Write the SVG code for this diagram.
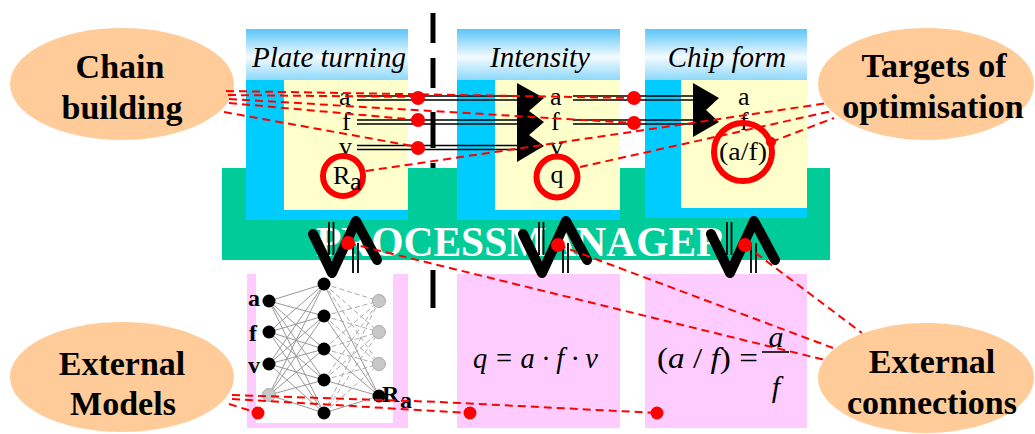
<svg xmlns="http://www.w3.org/2000/svg" width="1035" height="434" viewBox="0 0 1035 434">
<defs>
<linearGradient id="hdrGrad" x1="0" y1="0" x2="0" y2="1">
<stop offset="0" stop-color="#5bc5f8"/>
<stop offset="0.55" stop-color="#f4fbff"/>
<stop offset="1" stop-color="#8dd8fb"/>
</linearGradient>
</defs>
<style>
.blue{fill:#00ccff}
.hdrbg{fill:url(#hdrGrad)}
.yel{fill:#ffffcc}
.pink{fill:#ffccff}
.hdr{font-family:"Liberation Serif",serif;font-style:italic;font-size:29px;text-anchor:middle;fill:#000}
.lbl{font-family:"Liberation Serif",serif;font-size:26px;fill:#000}
.ell{fill:#ffcc99}
.ellt{font-family:"Liberation Serif",serif;font-weight:bold;font-size:34px;text-anchor:middle;fill:#000}
.dot{fill:#ff0000}
.ring{fill:none;stroke:#ff0000;stroke-width:6}
.conn{fill:none;stroke:#ff0000;stroke-width:2;stroke-dasharray:8 5}
.dbl{stroke:#000;stroke-width:1.6;fill:none}
.zig{fill:none;stroke:#000;stroke-width:10;stroke-linecap:round;stroke-linejoin:round}
.shaft{fill:none;stroke:#000;stroke-width:1.8}
.nnl{stroke:#999;stroke-width:1;fill:none}
.nnd{stroke:#aaa;stroke-width:1;fill:none;stroke-dasharray:5 3}
.nb{fill:#000}
.ng{fill:#c8c8c8;stroke:#aaa;stroke-width:1}
.nnt{font-family:"Liberation Serif",serif;font-weight:bold;font-size:24px;fill:#000}
.math{font-family:"Liberation Serif",serif;font-size:30px;fill:#000}
</style>
<rect x="0" y="0" width="1035" height="434" fill="#fff"/>

<g id="divider">
<path d="M433 13V43M433 58V88M433 112V148M433 163V200M433 270V308" stroke="#000" stroke-width="5" fill="none"/>
</g>

<g id="process-manager">
<rect x="222" y="168" width="608" height="92" fill="#00cc99"/>
<text x="316" y="256" font-family="Liberation Serif, serif" font-weight="bold" font-size="42" fill="#fff" textLength="410" lengthAdjust="spacingAndGlyphs">PROCESSMANAGER</text>
</g>

<g id="plate-turning">
<rect class="blue" x="246" y="29" width="162" height="191"/>
<rect class="hdrbg" x="246" y="29" width="162" height="51"/>
<rect class="yel" x="284" y="80" width="124" height="130"/>
<text class="hdr" x="329" y="67">Plate turning</text>
<text class="lbl" x="339" y="105">a</text>
<text class="lbl" x="342" y="130">f</text>
<text class="lbl" x="339" y="155">v</text>
<circle cx="343" cy="176" r="20" fill="#ffffcc"/>
<circle class="ring" cx="343" cy="176" r="20"/>
<text class="lbl" x="333" y="184" font-size="28">R</text>
<text class="lbl" x="350" y="190" font-size="13">a</text>
</g>

<g id="intensity">
<rect class="blue" x="457" y="29" width="163" height="191"/>
<rect class="hdrbg" x="457" y="29" width="163" height="51"/>
<rect class="yel" x="495" y="80" width="125" height="130"/>
<text class="hdr" x="540" y="67">Intensity</text>
<text class="lbl" x="550" y="105">a</text>
<text class="lbl" x="551" y="130">f</text>
<text class="lbl" x="550" y="155">v</text>
<polygon points="517,83 544,98 529,111 544,122 529,135 544,146 517,162" fill="#000"/>
<circle cx="557" cy="177" r="20.5" fill="#ffffcc"/>
<circle class="ring" cx="557" cy="177" r="20.5"/>
<text class="lbl" x="557" y="183" font-size="31" text-anchor="middle">q</text>
</g>

<g id="chip-form">
<rect class="blue" x="645" y="29" width="162" height="189"/>
<rect class="hdrbg" x="645" y="29" width="162" height="51"/>
<rect class="yel" x="681" y="80" width="126" height="128"/>
<text class="hdr" x="727" y="67">Chip form</text>
<text class="lbl" x="738" y="105">a</text>
<text class="lbl" x="740" y="130">f</text>
<polygon points="693,83 719,98 706,110 719,122 693,137" fill="#000"/>
<circle class="ring" cx="743" cy="152" r="29"/>
<text class="lbl" x="743" y="160" font-size="29" text-anchor="middle" textLength="48" lengthAdjust="spacingAndGlyphs">(a/f)</text>
</g>

<g id="neural-model">
<rect class="pink" x="247" y="274" width="161" height="154"/>
<rect x="256" y="274" width="137" height="149" fill="#fff"/>
<path class="nnl" d="M269 301L324 284M269 301L324 316M269 301L324 349M269 301L324 380M269 301L324 413M269 332L324 284M269 332L324 316M269 332L324 349M269 332L324 380M269 332L324 413M269 364L324 284M269 364L324 316M269 364L324 349M269 364L324 380M269 364L324 413M269 395L324 284M269 395L324 316M269 395L324 349M269 395L324 380M269 395L324 413"/>
<path class="nnd" d="M324 284L379 301M324 284L379 332M324 284L379 364M324 316L379 301M324 316L379 332M324 316L379 364M324 349L379 301M324 349L379 332M324 349L379 364M324 380L379 301M324 380L379 332M324 380L379 364M324 413L379 301M324 413L379 332M324 413L379 364"/>
<path class="nnl" d="M324 284L379 396M324 316L379 396M324 349L379 396M324 380L379 396M324 413L379 396"/>
<circle class="nb" cx="269" cy="301" r="6.5"/>
<circle class="nb" cx="269" cy="332" r="6.5"/>
<circle class="nb" cx="269" cy="364" r="6.5"/>
<circle class="ng" cx="269" cy="395" r="6.5"/>
<circle class="nb" cx="324" cy="284" r="6.5"/>
<circle class="nb" cx="324" cy="316" r="6.5"/>
<circle class="nb" cx="324" cy="349" r="6.5"/>
<circle class="nb" cx="324" cy="380" r="6.5"/>
<circle class="nb" cx="324" cy="413" r="6.5"/>
<circle class="ng" cx="379" cy="301" r="6.5"/>
<circle class="ng" cx="379" cy="332" r="6.5"/>
<circle class="ng" cx="379" cy="364" r="6.5"/>
<circle class="nb" cx="379" cy="396" r="6.5"/>
<text class="nnt" x="248" y="306">a</text>
<text class="nnt" x="249" y="341">f</text>
<text class="nnt" x="248" y="373">v</text>
<text class="nnt" x="382" y="402">R</text>
<text class="nnt" x="400" y="408" font-size="14">a</text>
</g>

<g id="intensity-model">
<rect class="pink" x="457" y="274" width="163" height="154"/>
<text class="math" x="473" y="368" font-size="31" font-style="italic" textLength="125" lengthAdjust="spacingAndGlyphs">q = a · f · v</text>
</g>

<g id="chipform-model">
<rect class="pink" x="645" y="274" width="162" height="154"/>
<text class="math" x="657" y="368" font-size="32" textLength="101" lengthAdjust="spacingAndGlyphs">(<tspan font-style="italic">a</tspan> / <tspan font-style="italic">f</tspan>) =</text>
<line x1="762" y1="352" x2="789" y2="352" stroke="#000" stroke-width="1.6"/>
<text class="math" x="776" y="347" font-size="32" font-style="italic" text-anchor="middle">a</text>
<text class="math" x="776" y="397" font-size="32" font-style="italic" text-anchor="middle">f</text>
</g>

<g id="chain-building">
<ellipse class="ell" cx="122" cy="84" rx="112" ry="56"/>
<text class="ellt" x="120" y="78">Chain</text>
<text class="ellt" x="122" y="119">building</text>
</g>
<g id="targets-of-optimisation">
<ellipse class="ell" cx="926" cy="84" rx="108" ry="56"/>
<text class="ellt" x="934" y="77">Targets of</text>
<text class="ellt" x="933" y="118">optimisation</text>
</g>
<g id="external-models">
<ellipse class="ell" cx="122" cy="377" rx="112" ry="55"/>
<text class="ellt" x="122" y="375">External</text>
<text class="ellt" x="123" y="415">Models</text>
</g>
<g id="external-connections">
<ellipse class="ell" cx="926" cy="378" rx="108" ry="55"/>
<text class="ellt" x="932" y="373">External</text>
<text class="ellt" x="932" y="414">connections</text>
</g>

<g id="connectors">
<path class="dbl" d="M357 96H522M357 100H522M357 120H522M357 124H522M357 145.5H522M357 149.5H522"/>
<path class="dbl" d="M573 96H697M573 100H697M573 120H697M573 124H697"/>
<path class="zig" d="M313 234L332 273L356 221L377 260"/>
<path class="shaft" d="M329 222V255M333.5 222V255M353 243V273M358 243V273"/>
<path class="zig" d="M523 234L542 273L566 221L587 260"/>
<path class="shaft" d="M539 222V255M543.5 222V255M563 243V273M568 243V273"/>
<path class="zig" d="M711 234L730 273L754 221L775 260"/>
<path class="shaft" d="M727 222V255M731.5 222V255M751 243V273M756 243V273"/>

<path class="conn" d="M226 91L634 98"/>
<path class="conn" d="M228 95L418 97"/>
<path class="conn" d="M229 99L634 123"/>
<path class="conn" d="M229 103L418 120"/>
<path class="conn" d="M224 112L418 147"/>
<path class="conn" d="M366 171L828 103"/>
<path class="conn" d="M580 167L832 111"/>
<path class="conn" d="M771 142L834 118"/>
<path class="conn" d="M229 404L258 413"/>
<path class="conn" d="M232 395L440 402L657 413"/>
<path class="conn" d="M232 399L470 413"/>
<path class="conn" d="M348 243L825 360"/>
<path class="conn" d="M558 245L833 348"/>
<path class="conn" d="M745 245L862 333"/>

<circle class="dot" cx="418" cy="98" r="7"/>
<circle class="dot" cx="418" cy="120" r="7"/>
<circle class="dot" cx="418" cy="148" r="7"/>
<circle class="dot" cx="634" cy="98" r="7"/>
<circle class="dot" cx="634" cy="123" r="7"/>
<circle class="dot" cx="771" cy="142" r="5"/>
<circle class="dot" cx="348" cy="243" r="7"/>
<circle class="dot" cx="558" cy="245" r="7"/>
<circle class="dot" cx="745" cy="245" r="7"/>
<circle class="dot" cx="258" cy="413" r="6.5"/>
<circle class="dot" cx="470" cy="413" r="6.5"/>
<circle class="dot" cx="657" cy="413" r="6.5"/>
</g>
</svg>
